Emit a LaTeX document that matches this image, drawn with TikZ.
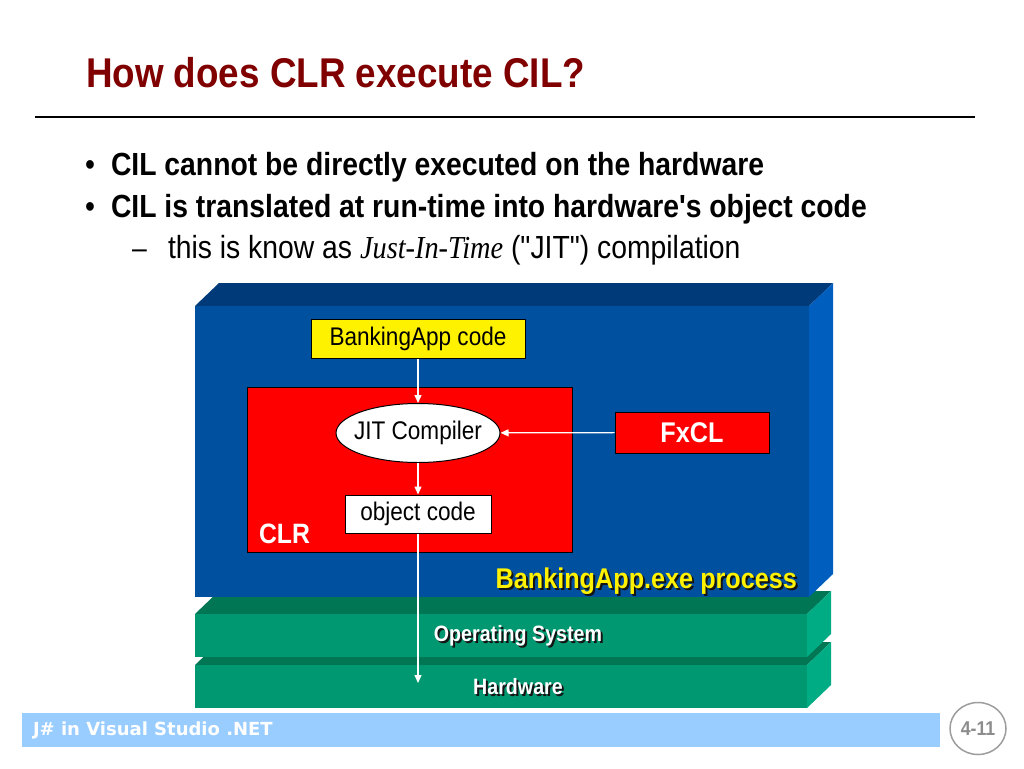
\documentclass[tikz,border=0pt]{standalone}
\usepackage{fontspec}
\setmainfont{Liberation Sans}[Ligatures=TeXOff]
\newfontfamily\tms{Liberation Serif}[Ligatures=TeXOff]
\newfontfamily\dejavu{DejaVu Sans}[Ligatures=TeXOff]
\usetikzlibrary{arrows.meta,shapes.geometric}
\newcommand{\cz}[1]{\scalebox{0.885}[1]{#1}}
\definecolor{titlered}{RGB}{128,0,0}
\definecolor{bluefront}{RGB}{0,80,160}
\definecolor{bluetop}{RGB}{0,58,120}
\definecolor{blueside}{RGB}{0,94,190}
\definecolor{greenfront}{RGB}{0,152,112}
\definecolor{greentop}{RGB}{0,118,84}
\definecolor{greenside}{RGB}{0,172,132}
\definecolor{footblue}{RGB}{153,204,255}
\definecolor{pagegray}{RGB}{140,140,140}
\definecolor{shadowc}{RGB}{20,20,20}
\tikzset{
  txt/.style={inner sep=0pt, outer sep=0pt},
  box/.style={draw=black, line width=1pt, inner sep=0pt},
  arr/.style={draw=white, line width=1.2pt, -{Triangle[length=8pt,width=7pt]}},
  dfont/.style={font=\fontsize{25.5}{30}\selectfont},
}
\begin{document}
\begin{tikzpicture}[x=1pt,y=-1pt]
\useasboundingbox (0,0) rectangle (1024,768);
\fill[white] (0,0) rectangle (1024,768);

% title
\node[txt, anchor=base west, text=titlered, font=\bfseries\fontsize{41.6}{50}\selectfont] (title) at (86,87) {\cz{How does CLR execute CIL?}};
\draw[line width=1.2pt] (35,117) -- (975,117);

% bullets
\node[txt, anchor=base west, font=\fontsize{32}{38}\selectfont] (d1) at (85,175.5) {\cz{•}};
\node[txt, anchor=base west, font=\bfseries\fontsize{32}{38}\selectfont] (b1) at (111,175.5) {\cz{CIL cannot be directly executed on the hardware}};
\node[txt, anchor=base west, font=\fontsize{32}{38}\selectfont] (d2) at (85,217.5) {\cz{•}};
\node[txt, anchor=base west, font=\bfseries\fontsize{32}{38}\selectfont] (b2) at (111,217.5) {\cz{CIL is translated at run-time into hardware's object code}};
\node[txt, anchor=base west, font=\fontsize{30}{36}\selectfont] (d3) at (132,258) {\cz{–}};
\node[txt, anchor=base west, font=\fontsize{32}{38}\selectfont] (b3) at (168,258) {\cz{this is know as {\tms\itshape Just-In-Time} ("JIT") compilation}};

% hardware slab
\fill[greentop] (195,665) -- (219,642) -- (831,642) -- (807,665) -- cycle;
\fill[greenside] (807,665) -- (831,642) -- (831,685) -- (807,708) -- cycle;
\fill[greenfront] (195,665) rectangle (807,708);
% OS slab
\fill[greentop] (195,614) -- (219,591) -- (831,591) -- (807,614) -- cycle;
\fill[greenside] (807,614) -- (831,591) -- (831,634) -- (807,657) -- cycle;
\fill[greenfront] (195,614) rectangle (807,657);
% process slab
\fill[bluetop] (195,306) -- (219,283) -- (833,283) -- (809,306) -- cycle;
\fill[blueside] (809,306) -- (833,283) -- (833,574) -- (809,597) -- cycle;
\fill[bluefront] (195,306) rectangle (809,597);

% slab labels
\node[txt, text=shadowc, font=\bfseries\fontsize{22.2}{26}\selectfont] (ossh) at (520,638) {\cz{Operating System}};
\node[txt, text=white, font=\bfseries\fontsize{22.2}{26}\selectfont] (os) at (518,636) {\cz{Operating System}};
\node[txt, text=shadowc, font=\bfseries\fontsize{22.2}{26}\selectfont] (hwsh) at (520,689) {\cz{Hardware}};
\node[txt, text=white, font=\bfseries\fontsize{22.2}{26}\selectfont] (hw) at (518,687) {\cz{Hardware}};
\node[txt, anchor=base east, text=shadowc, font=\bfseries\fontsize{28.5}{34}\selectfont] (procsh) at (799,590) {\cz{BankingApp.exe process}};
\node[txt, anchor=base east, text=yellow, font=\bfseries\fontsize{28.5}{34}\selectfont] (proc) at (797,588) {\cz{BankingApp.exe process}};

% CLR
\node[box, fill=red, minimum width=325pt, minimum height=165pt] (clr) at (409.5,469.5) {};
\node[txt, anchor=base west, text=white, font=\bfseries\fontsize{28}{34}\selectfont] (clrlab) at (259,543) {\cz{CLR}};

\node[box, fill=yellow, minimum width=214pt, minimum height=39pt, dfont] (code) at (418,339) {\cz{BankingApp code}};
\node[box, ellipse, fill=white, minimum width=164pt, minimum height=59pt,
      label={[dfont, inner sep=0pt]center:\cz{JIT Compiler}}] (jit) at (418,433) {};
\node[box, fill=white, minimum width=146pt, minimum height=38pt, dfont] (obj) at (418,514) {\cz{object code}};
\node[box, fill=red, minimum width=154pt, minimum height=41pt, text=white, font=\bfseries\fontsize{28.5}{34}\selectfont] (fxcl) at (692,432.5) {\cz{FxCL}};
\coordinate (hwend) at (418,683);

\draw[arr] (code) -- (jit);
\draw[arr] (fxcl) -- (jit);
\draw[arr] (jit) -- (obj);
\draw[arr] (obj) -- (hwend);

% footer
\fill[footblue] (22,713) rectangle (940,747);
\node[txt, anchor=west, text=white, font=\dejavu\bfseries\fontsize{18}{22}\selectfont] (foot) at (33,730) {J\# in Visual Studio .NET};
\node[ellipse, draw=pagegray!85, line width=1.5pt, minimum width=56pt, minimum height=52pt, inner sep=0pt, text=pagegray, font=\bfseries\fontsize{20}{24}\selectfont] (page) at (978,728.5) {\cz{4-11}};
\end{tikzpicture}
\end{document}
